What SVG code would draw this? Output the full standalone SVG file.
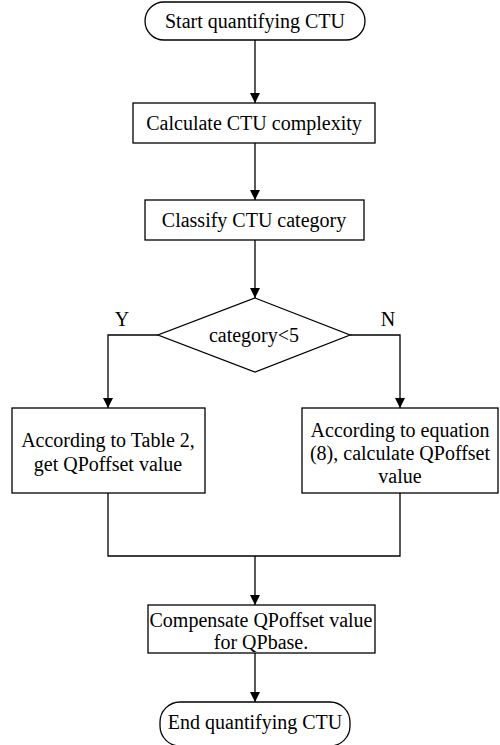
<svg xmlns="http://www.w3.org/2000/svg" width="500" height="745" viewBox="0 0 500 745">
<style>
.s{fill:#fff;stroke:#000;stroke-width:1.3}
.c{fill:none;stroke:#000;stroke-width:1.3}
</style>
<defs>
<marker id="a" markerWidth="10" markerHeight="12" refX="10" refY="5" orient="auto" markerUnits="userSpaceOnUse" viewBox="0 0 10 10">
<path d="M0,0 L10,5 L0,10 z" fill="#000"/>
</marker>
</defs>
<g font-family="Liberation Serif, DejaVu Serif, Times New Roman, serif" font-size="20" text-anchor="middle" fill="#000">
<g id="connectors">
<path class="c" d="M255,40 V103" marker-end="url(#a)"/>
<path class="c" d="M255,143 V200" marker-end="url(#a)"/>
<path class="c" d="M255,240 V298" marker-end="url(#a)"/>
<path class="c" d="M158,335 H108 V408" marker-end="url(#a)"/>
<path class="c" d="M350,335 H400 V408" marker-end="url(#a)"/>
<path class="c" d="M108,493 V556 H400 V493"/>
<path class="c" d="M255,556 V605" marker-end="url(#a)"/>
<path class="c" d="M255,653 V702" marker-end="url(#a)"/>
<text x="122" y="326">Y</text>
<text x="388" y="326">N</text>
</g>
<g id="start">
<rect class="s" x="145" y="2" width="220" height="38" rx="19"/>
<text x="255" y="28">Start quantifying CTU</text>
</g>
<g id="calc">
<rect class="s" x="133" y="103" width="242" height="40"/>
<text x="254" y="130">Calculate CTU complexity</text>
</g>
<g id="classify">
<rect class="s" x="145" y="200" width="219" height="40"/>
<text x="254" y="227">Classify CTU category</text>
</g>
<g id="decision">
<path class="s" d="M255,298 L350,335 L255,372 L158,335 Z"/>
<text x="254" y="342">category&lt;5</text>
</g>
<g id="table">
<rect class="s" x="12" y="408" width="193" height="85"/>
<text x="108" y="447">According to Table 2,</text>
<text x="108" y="471">get QPoffset value</text>
</g>
<g id="equation">
<rect class="s" x="302" y="408" width="196" height="85"/>
<text x="400" y="437">According to equation</text>
<text x="400" y="460">(8), calculate QPoffset</text>
<text x="400" y="483">value</text>
</g>
<g id="compensate">
<rect class="s" x="148" y="605" width="227" height="48"/>
<text x="261" y="627">Compensate QPoffset value</text>
<text x="261" y="649">for QPbase.</text>
</g>
<g id="end">
<rect class="s" x="160" y="702" width="190" height="44" rx="20"/>
<text x="255" y="729">End quantifying CTU</text>
</g>
</g>
</svg>
